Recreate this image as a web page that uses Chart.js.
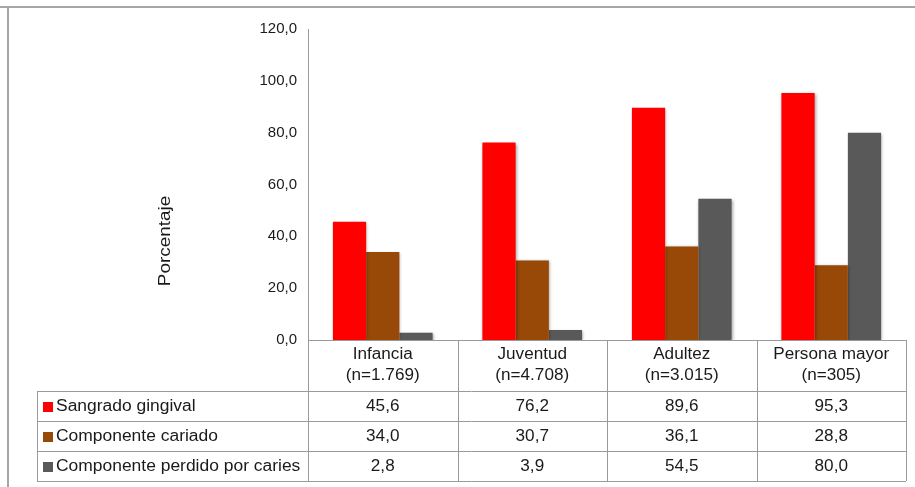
<!DOCTYPE html>
<html>
<head>
<meta charset="utf-8">
<script src="https://cdn.jsdelivr.net/npm/chart.js@4.4.1/dist/chart.umd.min.js"></script>
<style>
  html, body { margin: 0; padding: 0; background: #fff; }
  #wrap { position: relative; width: 915px; height: 487px; }
</style>
</head>
<body>
<div id="wrap"><canvas id="chart" width="915" height="487"></canvas></div>
<script>
// data
const categories = [
  ["Infancia", "(n=1.769)"],
  ["Juventud", "(n=4.708)"],
  ["Adultez", "(n=3.015)"],
  ["Persona mayor", "(n=305)"]
];
const seriesNames = ["Sangrado gingival", "Componente cariado", "Componente perdido por caries"];
const sangrado = [45.6, 76.2, 89.6, 95.3];
const cariado = [34.0, 30.7, 36.1, 28.8];
const perdido = [2.8, 3.9, 54.5, 80.0];
const colors = ["#ff0000", "#984807", "#595959"];
const yTicks = [0, 20, 40, 60, 80, 100, 120];
const yTitle = "Porcentaje";

const fmt = v => v.toFixed(1).replace(".", ",");
const lineColor = "#9a9a9a";
const font = "Liberation Sans, Arial, sans-serif";
const textColor = "#1a1a1a";

// text in the original is a bit wider than Liberation Sans
function wideText(ctx, str, x, y, align, sx) {
  const w = ctx.measureText(str).width * sx;
  let left = x;
  if (align === "center") left = x - w / 2;
  else if (align === "right") left = x - w;
  ctx.save();
  ctx.translate(left, y);
  ctx.scale(sx, 1);
  ctx.textAlign = "left";
  ctx.fillText(str, 0, 0);
  ctx.restore();
}

// data table under the plot, columns taken from the x scale
const tablePlugin = {
  id: "dataTable",
  beforeDatasetsDraw(chart) {
    const ctx = chart.ctx;
    ctx.save();
    ctx.shadowColor = "rgba(0,0,0,0.35)";
    ctx.shadowBlur = 3;
    ctx.shadowOffsetX = 1;
    ctx.shadowOffsetY = 1;
  },
  afterDatasetsDraw(chart) {
    chart.ctx.restore();
  },
  afterDraw(chart) {
    const ctx = chart.ctx;
    const x = chart.scales.x;
    const area = chart.chartArea;
    const colW = (x.right - x.left) / categories.length;
    const top = area.bottom;
    const headerH = 51;
    const rowH = 30;
    const keyLeft = 37;
    const tableRight = x.right;
    const bottom = top + headerH + rowH * seriesNames.length;

    ctx.save();
    // outer frame lines
    ctx.strokeStyle = "#a6a6a6";
    ctx.lineWidth = 2;
    ctx.beginPath();
    ctx.moveTo(0, 7); ctx.lineTo(915, 7);
    ctx.moveTo(8, 7); ctx.lineTo(8, 487);
    ctx.stroke();

    ctx.strokeStyle = lineColor;
    ctx.lineWidth = 1;
    ctx.beginPath();
    ctx.moveTo(x.left, top + 0.5); ctx.lineTo(tableRight, top + 0.5);
    for (let i = 0; i <= categories.length; i++) {
      const cx = Math.round(x.left + colW * i) + 0.5;
      ctx.moveTo(cx, top); ctx.lineTo(cx, bottom);
    }
    for (let r = 0; r <= seriesNames.length; r++) {
      const y = Math.round(top + headerH + rowH * r) + 0.5;
      ctx.moveTo(keyLeft, y); ctx.lineTo(tableRight, y);
    }
    ctx.moveTo(keyLeft + 0.5, top + headerH); ctx.lineTo(keyLeft + 0.5, bottom);
    ctx.stroke();

    ctx.fillStyle = textColor;
    ctx.textBaseline = "middle";
    ctx.font = "16px " + font;
    categories.forEach((lines, i) => {
      const cx = x.getPixelForValue(i);
      wideText(ctx, lines[0], cx, top + 15, "center", 1.07);
      wideText(ctx, lines[1], cx, top + 36, "center", 1.07);
    });

    const series = [sangrado, cariado, perdido];
    series.forEach((vals, r) => {
      const cy = top + headerH + rowH * r + rowH / 2 + 1;
      ctx.fillStyle = colors[r];
      ctx.fillRect(keyLeft + 6, cy - 5, 10, 10);
      ctx.fillStyle = textColor;
      wideText(ctx, seriesNames[r], keyLeft + 19, cy, "left", 1.09);
      vals.forEach((v, i) => {
        wideText(ctx, fmt(v), x.getPixelForValue(i), cy, "center", 1.07);
      });
    });

    // y axis title
    ctx.save();
    ctx.translate(166, 241);
    ctx.rotate(-Math.PI / 2);
    ctx.font = "16px " + font;
    wideText(ctx, yTitle, 0, 0, "center", 1.18);
    ctx.restore();
    ctx.restore();
  }
};

new Chart(document.getElementById("chart"), {
  type: "bar",
  data: {
    labels: categories,
    datasets: [
      { label: seriesNames[0], data: sangrado, backgroundColor: colors[0] },
      { label: seriesNames[1], data: cariado, backgroundColor: colors[1] },
      { label: seriesNames[2], data: perdido, backgroundColor: colors[2] }
    ]
  },
  options: {
    responsive: false,
    animation: false,
    layout: { padding: { left: 0, top: 29, right: 9, bottom: 147 } },
    datasets: { bar: { barPercentage: 1, categoryPercentage: 0.667 } },
    plugins: {
      legend: { display: false },
      tooltip: { enabled: false }
    },
    scales: {
      x: { display: false },
      y: {
        min: 0,
        max: 120,
        afterFit: s => { s.width = 308; },
        afterBuildTicks: s => { s.ticks = yTicks.map(v => ({ value: v })); },
        grid: { display: false, drawTicks: false },
        border: { display: true, color: lineColor, width: 1 },
        ticks: {
          padding: 11,
          color: textColor,
          font: { family: font, size: 15 },
          callback: v => fmt(v)
        }
      }
    }
  },
  plugins: [tablePlugin]
});
</script>
</body>
</html>
